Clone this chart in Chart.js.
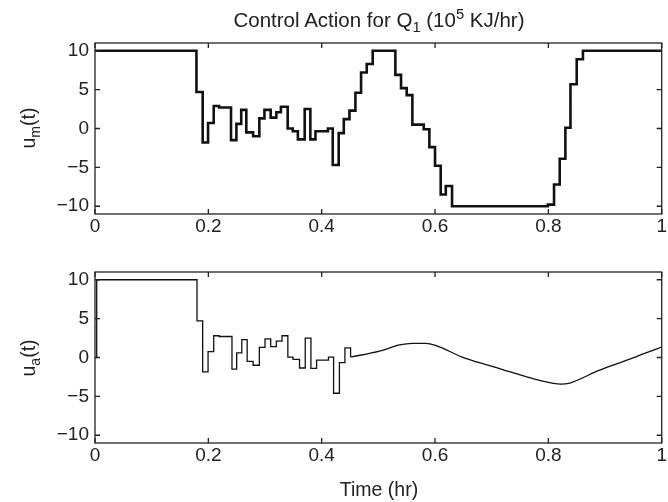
<!DOCTYPE html>
<html>
<head>
<meta charset="utf-8">
<script src="https://cdn.jsdelivr.net/npm/chart.js@4"></script>
<style>
body { margin:0; width:668px; height:502px; position:relative; background:#fff; overflow:hidden;
       font-family:"Liberation Sans", Arial, sans-serif; color:#222; }
canvas { position:absolute; left:0; }
#c1 { top:0; }
#c2 { top:245px; }
.lbl { position:absolute; font-size:19.5px; white-space:nowrap; line-height:1; }
.lbl sub, .lbl sup { font-size:72%; line-height:0; }
#title { left:379px; top:20px; font-size:20.5px; transform:translate(-50%,-50%); }
#xlab { left:379px; top:490px; transform:translate(-50%,-50%); }
#ylab1 { left:29px; top:128px; transform:translate(-50%,-50%) rotate(-90deg); }
#ylab2 { left:29px; top:358px; transform:translate(-50%,-50%) rotate(-90deg); }
</style>
</head>
<body>
<canvas id="c1" width="668" height="245"></canvas>
<canvas id="c2" width="668" height="257"></canvas>
<div class="lbl" id="title">Control Action for Q<sub>1</sub> (10<sup>5</sup> KJ/hr)</div>
<div class="lbl" id="ylab1">u<sub>m</sub>(t)</div>
<div class="lbl" id="ylab2">u<sub>a</sub>(t)</div>
<div class="lbl" id="xlab">Time (hr)</div>
<script>
// tick labels
var xTicks = [0, 0.2, 0.4, 0.6, 0.8, 1];
var yTicks = [-10, -5, 0, 5, 10];

// u_m(t): step starts (hr) and held values
var umTime  = [0, 0.179, 0.19, 0.1995, 0.2095, 0.219, 0.24, 0.2495, 0.258, 0.267, 0.279, 0.29, 0.299, 0.31, 0.32, 0.328,
               0.34, 0.349, 0.358, 0.37, 0.38, 0.389, 0.411, 0.4195, 0.43, 0.439, 0.449, 0.4595, 0.4695, 0.4795, 0.49,
               0.53, 0.54, 0.55, 0.56, 0.58, 0.59, 0.6, 0.61, 0.619, 0.63, 0.799, 0.81, 0.82, 0.83, 0.839, 0.85, 0.861, 1];
var umValue = [10, 4.7, -1.8, 0.7, 2.9, 2.7, -1.5, 0.6, 2.4, -0.5, -1.0, 1.3, 2.4, 1.4, 2.1, 2.8,
               0.0, -0.35, -1.4, 2.5, -1.4, -0.35, 0.0, -4.7, -0.6, 1.2, 2.3, 4.6, 7.2, 8.3, 10,
               6.9, 5.2, 4.3, 0.5, -0.1, -2.4, -4.8, -8.5, -7.4, -10, -9.8, -7.2, -3.9, 0.1, 5.7, 8.9, 10, 10];

// u_a(t): stepped part
var uaStepTime  = [0, 0.003, 0.18, 0.19, 0.1995, 0.2095, 0.219, 0.2417, 0.25, 0.259, 0.2685, 0.279, 0.29, 0.3, 0.31, 0.32, 0.33,
                   0.3403, 0.3494, 0.3609, 0.371, 0.381, 0.391, 0.412, 0.421, 0.4313, 0.441, 0.451];
var uaStepValue = [0, 10, 4.7, -1.85, 0.75, 2.8, 2.7, -1.5, 0.6, 2.3, -0.5, -1.0, 1.3, 2.4, 1.4, 2.1, 2.8,
                   0.05, -0.25, -1.35, 2.5, -1.4, -0.35, 0.05, -4.6, -0.65, 1.23, 0.05];
// u_a(t): smooth part
var uaSmoothTime  = [0.451, 0.502, 0.537, 0.56, 0.584, 0.602, 0.648, 0.69, 0.737, 0.783, 0.822, 0.836, 0.854, 0.883, 0.913, 0.942, 0.971, 1];
var uaSmoothValue = [0.05, 0.81, 1.61, 1.83, 1.83, 1.53, 0.05, -0.93, -1.94, -2.92, -3.43, -3.34, -2.83, -1.86, -1.01, -0.25, 0.56, 1.35];

function pts(t, v) {
    return t.map(function (x, i) { return { x: x, y: v[i] }; });
}

function fmt(v) {
    return String(Math.round(v * 10) / 10).replace('-', '\u2212');
}

var font = { family: '"Liberation Sans", Arial, sans-serif', size: 19 };

var boxPlugin = {
    id: 'box',
    afterDraw: function (chart) {
        var ctx = chart.ctx, a = chart.chartArea, xs = chart.scales.x, ys = chart.scales.y;
        ctx.save();
        ctx.strokeStyle = '#222';
        ctx.lineWidth = 1.3;
        ctx.strokeRect(a.left, a.top, a.right - a.left, a.bottom - a.top);
        ctx.beginPath();
        xTicks.forEach(function (v) {
            var px = xs.getPixelForValue(v);
            ctx.moveTo(px, a.bottom); ctx.lineTo(px, a.bottom - 5);
            ctx.moveTo(px, a.top); ctx.lineTo(px, a.top + 5);
        });
        yTicks.forEach(function (v) {
            var py = ys.getPixelForValue(v);
            ctx.moveTo(a.left, py); ctx.lineTo(a.left + 5, py);
            ctx.moveTo(a.right, py); ctx.lineTo(a.right - 5, py);
        });
        ctx.stroke();
        ctx.restore();
    }
};

function makeChart(id, datasets, top, xHeight) {
    return new Chart(document.getElementById(id), {
        type: 'line',
        data: { datasets: datasets },
        options: {
            responsive: false,
            animation: false,
            layout: { padding: { top: top, right: 0, left: 0, bottom: 0 } },
            plugins: { legend: { display: false }, tooltip: { enabled: false } },
            scales: {
                x: {
                    type: 'linear', min: 0, max: 1,
                    afterBuildTicks: function (s) { s.ticks = xTicks.map(function (v) { return { value: v }; }); },
                    afterFit: function (s) { s.height = xHeight; },
                    ticks: { font: font, color: '#222', padding: 1, maxRotation: 0, autoSkip: false, callback: fmt },
                    grid: { display: false, drawTicks: false, tickLength: 0 }, border: { display: false }
                },
                y: {
                    min: -11, max: 11,
                    afterBuildTicks: function (s) { s.ticks = yTicks.map(function (v) { return { value: v }; }); },
                    afterFit: function (s) { s.width = 95; },
                    ticks: { font: font, color: '#222', padding: 6, callback: fmt },
                    grid: { display: false, drawTicks: false, tickLength: 0 }, border: { display: false }
                }
            }
        },
        plugins: [boxPlugin]
    });
}

makeChart('c1', [{
    data: pts(umTime, umValue), stepped: true, borderColor: '#111', borderWidth: 2.6, pointRadius: 0, fill: false
}], 43, 31);

makeChart('c2', [{
    data: pts(uaStepTime, uaStepValue), stepped: true, borderColor: '#111', borderWidth: 1.3, pointRadius: 0, fill: false
}, {
    data: pts(uaSmoothTime, uaSmoothValue), borderColor: '#111', borderWidth: 1.3, pointRadius: 0, fill: false,
    cubicInterpolationMode: 'monotone'
}], 27, 59);
</script>
</body>
</html>
